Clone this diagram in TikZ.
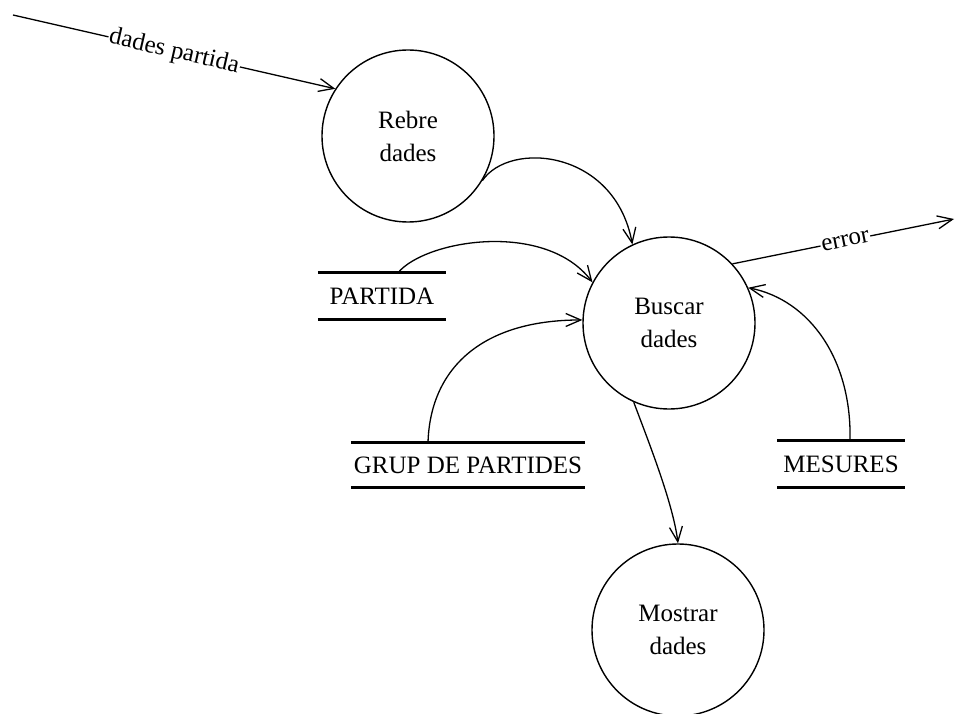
\documentclass[tikz,border=0pt]{standalone}
\usepackage{fontspec}
\setmainfont{Liberation Serif}
\usetikzlibrary{arrows.meta}
\begin{document}
\begin{tikzpicture}[x=1pt,y=-1pt,
  every node/.style={font=\fontsize{25}{33}\selectfont},
  process/.style={circle,draw,line width=1.4pt,minimum size=172pt,inner sep=0pt,align=center},
  datastore/.style={inner xsep=2pt,inner ysep=0pt,minimum height=46pt},
  storeline/.style={line width=3pt},
  flow/.style={line width=1.3pt,-{Straight Barb[length=15pt,width=13pt,line width=1.3pt]}},
  flowlabel/.style={sloped,fill=white,inner sep=1pt}]
\useasboundingbox (0,0) rectangle (955,714);
\fill[white] (0,0) rectangle (955,714);

% processes
\node[process] (reb) at (408,136) {Rebre\\dades};
\node[process] (bus) at (669,323) {Buscar\\dades};
\node[process] (mos) at (678,630) {Mostrar\\dades};

% data stores
\node[datastore,minimum width=128pt] (par) at (382,296) {PARTIDA};
\node[datastore,minimum width=234pt,minimum height=44pt] (grp) at (468,465) {GRUP DE PARTIDES};
\node[datastore,minimum width=127pt] (mes) at (841,464) {MESURES};
\foreach \s in {par,grp,mes}{
  \draw[storeline] (\s.north west) -- (\s.north east);
  \draw[storeline] (\s.south west) -- (\s.south east);
}

% external ends
\coordinate (src) at (13,15);
\coordinate (sink) at (954,219);

% flows
\draw[flow] (src) -- node[flowlabel,pos=0.5] {dades partida} (reb.147);
\draw[flow] (reb.-31) .. controls (510,140) and (615,150) .. (bus.115);
\draw[flow] ([xshift=16pt]par.north) .. controls (425,240) and (545,220) .. (bus.152);
\draw[flow] ([xshift=-40pt]grp.north) .. controls (430,370) and (480,320) .. (bus.178);
\draw[flow] ([xshift=9pt]mes.north) .. controls (852,360) and (810,300) .. (bus.24);
\draw[flow] (bus.43) -- node[flowlabel,pos=0.51] {error} (sink);
\draw[flow] (bus.-114) .. controls +(15,40) and +(-5,-40) .. (mos.90);
\end{tikzpicture}
\end{document}
